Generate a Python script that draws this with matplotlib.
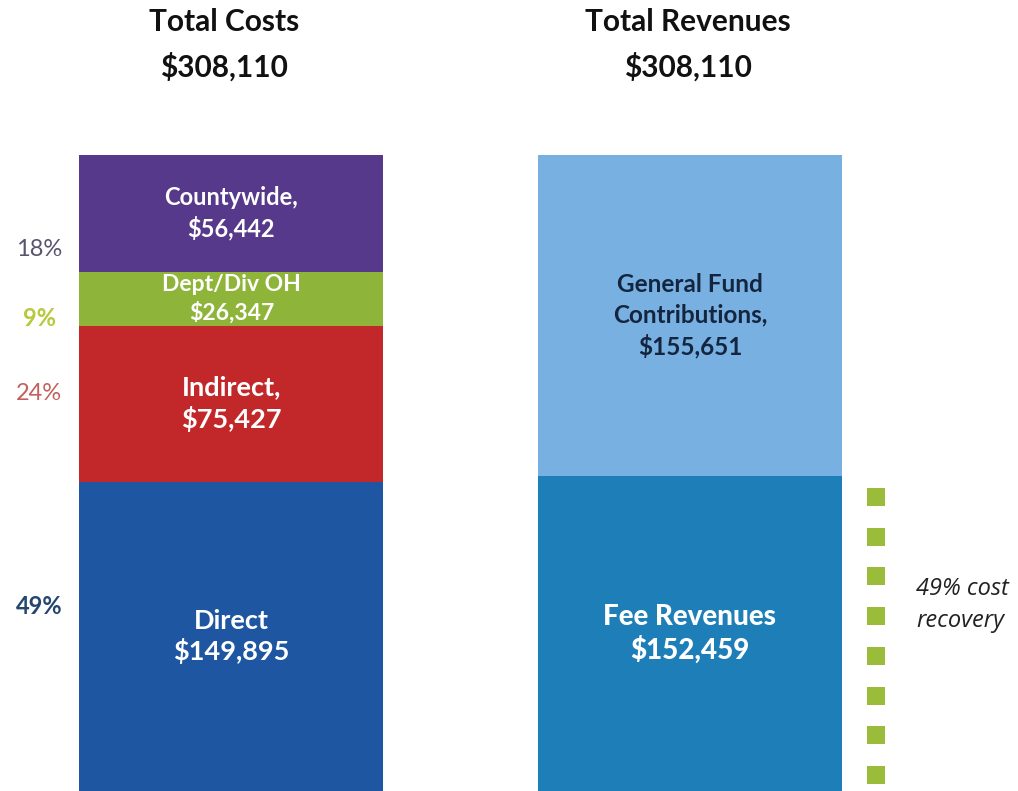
import matplotlib.pyplot as plt
import numpy as np

# cost side, bottom to top
cost_labels = ['Direct\n$149,895', 'Indirect,\n$75,427', 'Dept/Div OH\n$26,347', 'Countywide,\n$56,442']
cost_values = [149895, 75427, 26347, 56442]
cost_colors = ['#1f56a2', '#c2282a', '#8fb43a', '#56398a']
cost_pcts = ['49%', '24%', '9%', '18%']
pct_colors = ['#24466e', '#c4605c', '#b9c93c', '#57546e']

# revenue side, bottom to top
rev_labels = ['Fee Revenues\n$152,459', 'General Fund\nContributions,\n$155,651']
rev_values = [152459, 155651]
rev_colors = ['#1e7fb8', '#79b0e2']
rev_text_colors = ['white', '#14263f']

total = 308110
n_dots = 8

W, H = 1018, 791
fig = plt.figure(figsize=(W / 100, H / 100), dpi=100)
ax = fig.add_axes([0, 0, 1, 636 / H])
ax.set_xlim(0, W)
ax.set_ylim(0, total)
ax.axis('off')

left_x, right_x, bar_w = 231.5, 690, 304

# left stacked bar
bottom = 0
font_sizes = [19.5, 19.5, 16.5, 17]
spacings = [1.25, 1.3, 1.35, 1.3]
for lab, val, col, fs, ls in zip(cost_labels, cost_values, cost_colors, font_sizes, spacings):
    ax.bar(left_x, val, bar_w, bottom=bottom, color=col, edgecolor='none')
    ax.text(left_x, bottom + val / 2, lab, ha='center', va='center', color='white',
            fontsize=fs, fontweight='bold', family='Lato', linespacing=ls)
    bottom += val

# right stacked bar
bottom = 0
rev_sizes = [20, 17.5]
rev_weights = ['black', 'bold']
rev_spacing = [1.25, 1.38]
for lab, val, col, tc, fs, fw, ls in zip(rev_labels, rev_values, rev_colors, rev_text_colors,
                                         rev_sizes, rev_weights, rev_spacing):
    ax.bar(right_x, val, bar_w, bottom=bottom, color=col, edgecolor='none')
    ax.text(right_x, bottom + val / 2, lab, ha='center', va='center', color=tc,
            fontsize=fs, fontweight=fw, family='Lato', linespacing=ls)
    bottom += val

# dotted bracket beside fee revenues
dot_y = np.linspace(rev_values[0] * 0.934, rev_values[0] * 0.051, n_dots)
ax.scatter(np.full(n_dots, 876.5), dot_y, marker='s', s=150, color='#9bbb3b', linewidths=0)
ax.text(916, rev_values[0] * 0.592, '49% cost\nrecovery', ha='left', va='center',
        fontsize=17, style='italic', family='Open Sans', color='#222222', linespacing=1.45)

# percent labels on the left
pct_y = [606, 393, 318, 250]
for p, c, py, w in zip(cost_pcts, pct_colors, pct_y, ['bold', 'normal', 'bold', 'normal']):
    fig.text(39 / W, 1 - py / H, p, ha='center', va='center', color=c,
             fontsize=17, fontweight=w, family='Lato')

# titles
for cx, t in [(224, 'Total Costs'), (688, 'Total Revenues')]:
    fig.text(cx / W, 1 - 22 / H, t, ha='center', va='center', fontsize=21.5,
             fontweight='bold', family='Lato', color='#111111')
    fig.text(cx / W, 1 - 67 / H, '$308,110', ha='center', va='center', fontsize=21.5,
             fontweight='bold', family='Lato', color='#111111')

fig.savefig('out.png', dpi=100, facecolor='white')
